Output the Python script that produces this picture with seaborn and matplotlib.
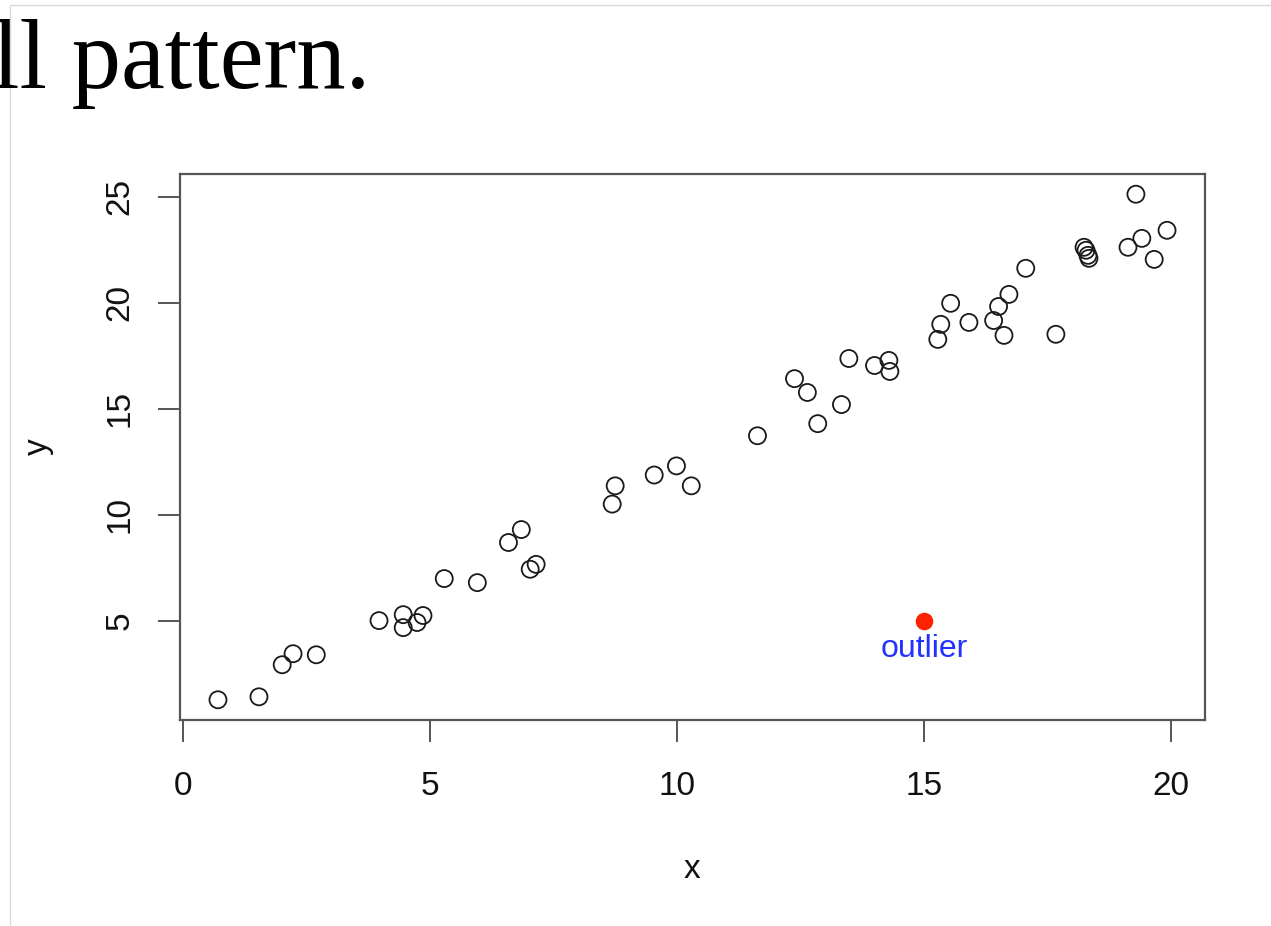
import matplotlib
matplotlib.use("Agg")
import matplotlib.pyplot as plt
from matplotlib.lines import Line2D
import pandas as pd
import seaborn as sns

# data
x_vals = [0.71, 1.54, 2.01, 2.23, 2.70, 3.97, 4.46, 4.46, 4.74, 4.86,
          5.29, 5.96, 6.59, 6.85, 7.03, 7.15, 8.69, 8.75, 9.54, 9.99,
          10.29, 11.63, 12.38, 12.64, 12.85, 13.33, 13.48, 14.00, 14.29, 14.31,
          15.28, 15.34, 15.54, 15.91, 16.41, 16.51, 16.62, 16.72, 17.06, 17.67,
          18.24, 18.28, 18.32, 18.34, 19.13, 19.29, 19.41, 19.66, 19.92]
y_vals = [1.29, 1.43, 2.94, 3.46, 3.41, 5.02, 5.30, 4.69, 4.93, 5.26,
          7.00, 6.81, 8.70, 9.31, 7.44, 7.67, 10.51, 11.37, 11.88, 12.31,
          11.37, 13.73, 16.42, 15.77, 14.30, 15.20, 17.37, 17.04, 17.28, 16.76,
          18.27, 18.98, 19.97, 19.07, 19.16, 19.82, 18.46, 20.39, 21.62, 18.51,
          22.61, 22.47, 22.23, 22.09, 22.61, 25.11, 23.03, 22.04, 23.41]
outlier_x = [15.0]
outlier_y = [5.0]
x_ticks = [0, 5, 10, 15, 20]
y_ticks = [5, 10, 15, 20, 25]
x_label = "x"
y_label = "y"
outlier_label = "outlier"
caption = "ll pattern."

sns.set_style("ticks")
plt.rcParams["font.family"] = ["Liberation Sans", "DejaVu Sans"]

W, H = 1271, 926
fig = plt.figure(figsize=(W / 100, H / 100), dpi=100)
ax = fig.add_axes([180 / W, 1 - 720 / H, 1025 / W, 546 / H])

df = pd.DataFrame({"x": x_vals, "y": y_vals})
sns.scatterplot(data=df, x="x", y="y", ax=ax, marker="o", s=150,
                facecolors="none", edgecolor="#1a1a1a", linewidth=1.3)
odf = pd.DataFrame({"x": outlier_x, "y": outlier_y})
sns.scatterplot(data=odf, x="x", y="y", ax=ax, marker="o", s=160,
                color="#ff2200", linewidth=0)
ax.annotate(outlier_label, (outlier_x[0], outlier_y[0]), xytext=(0, -9),
            textcoords="offset points", ha="center", va="top",
            color="#2233ff", fontsize=23)

# R style limits: 4% padding each side
all_x = x_vals + outlier_x
all_y = y_vals + outlier_y
dx = (max(all_x) - min(all_x)) * 0.04
dy = (max(all_y) - min(all_y)) * 0.04
ax.set_xlim(min(all_x) - dx, max(all_x) + dx)
ax.set_ylim(min(all_y) - dy, max(all_y) + dy)

ax.set_xticks(x_ticks)
ax.set_xticklabels([str(t) for t in x_ticks])
ax.set_yticks(y_ticks)
ax.set_yticklabels([str(t) for t in y_ticks], rotation=90, va="center")
ax.tick_params(direction="out", length=16, width=1.4, color="#555555",
               labelsize=24, labelcolor="#111111")
ax.tick_params(axis="x", pad=21)
ax.tick_params(axis="y", pad=16)

for sp in ax.spines.values():
    sp.set_visible(True)
    sp.set_color("#555555")
    sp.set_linewidth(1.6)

ax.set_xlabel(x_label, fontsize=24, color="#111111")
ax.set_ylabel(y_label, fontsize=24, color="#111111")
ax.xaxis.set_label_coords(0.5, (720 - 870) / 546)
ax.xaxis.label.set_va("center")
ax.yaxis.set_label_coords((38 - 180) / 1025, 0.5)
ax.yaxis.label.set_va("center")
ax.yaxis.label.set_ha("center")

# page text and frame around the embedded plot
fig.text(370 / W, 1 - 88 / H, caption, ha="right", va="baseline", fontsize=71,
         family=["Liberation Serif", "DejaVu Serif"], color="black")
fig.add_artist(Line2D([10 / W, 1], [1 - 5 / H, 1 - 5 / H], color="#d9d9d9", lw=1))
fig.add_artist(Line2D([10 / W, 10 / W], [0, 1 - 5 / H], color="#d9d9d9", lw=1))

fig.savefig("out.png", dpi=100)
plt.close(fig)
